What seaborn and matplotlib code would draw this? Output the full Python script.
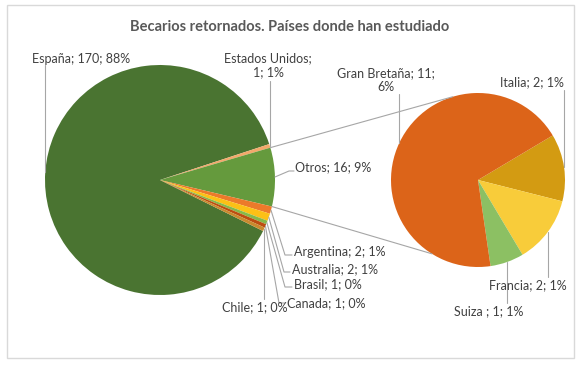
import numpy as np
import seaborn as sns
import matplotlib.pyplot as plt

W, H = 582, 365

title = 'Becarios retornados. Países donde han estudiado'

main_names = ['España', 'Estados Unidos', 'Otros', 'Argentina', 'Australia', 'Brasil', 'Canada', 'Chile']
main_values = [170, 1, 16, 2, 2, 1, 1, 1]
main_pcts = ['88%', '1%', '9%', '1%', '1%', '0%', '0%', '0%']
main_colors = ['#4a7431', '#f2a96b', '#659a3d', '#ec7a2a', '#fcc016', '#86b94a', '#bd4d10', '#c98a2e']

sub_names = ['Italia', 'Francia', 'Suiza ', 'Gran Bretaña']
sub_values = [2, 2, 1, 11]
sub_pcts = ['1%', '1%', '1%', '6%']
sub_colors = ['#d39b12', '#f8cc3a', '#8cc063', '#dc6419']

# labels that Excel wrapped onto two lines
wrapped = {'Estados Unidos': 'Estados Unidos;\n{v}; {p}', 'Gran Bretaña': 'Gran Bretaña; {v};\n{p}'}

# label layout in pixels (y down): text x, text y, ha, leader
main_layout = {
    'España': (32, 59, 'left', ('v', 65)),
    'Estados Unidos': (268, 65, 'center', ('v', 81)),
    'Otros': (295, 167, 'left', ('e', 289, 171, 294)),
    'Argentina': (294, 252, 'left', ('e', 285, 255, 292)),
    'Australia': (292, 269, 'left', ('e', 284, 272, 290)),
    'Brasil': (294, 284, 'left', ('e', 285, 287, 292)),
    'Canada': (287, 303, 'left', ('e', 279, 303, 285)),
    'Chile': (255, 307, 'center', ('v', 299)),
}
sub_layout = {
    'Italia': (500, 82, 'left', ('v', 90)),
    'Francia': (489, 285, 'left', ('v', 277)),
    'Suiza ': (454, 311, 'left', ('v', 303)),
    'Gran Bretaña': (386, 80, 'center', ('v', 94)),
}

GRAY = '#a6a6a6'
TXT = '#404040'


def Y(y):
    return H - y


def edge_point(center, r, w, f=0.5):
    a = np.deg2rad(w.theta1 + f * (w.theta2 - w.theta1))
    return center[0] + r * np.cos(a), center[1] + r * np.sin(a)


def label_text(name, v, p):
    if name in wrapped:
        return wrapped[name].format(v=v, p=p)
    return f'{name}; {v}; {p}'


def draw_labels(ax, wedges, names, values, pcts, layout, center, r):
    for w, name, v, p in zip(wedges, names, values, pcts):
        tx, ty, ha, lead = layout[name]
        ax.text(tx, Y(ty), label_text(name, v, p), ha=ha, va='center',
                fontsize=9, color=TXT, linespacing=1.25, multialignment='center')
        x0, y0 = edge_point(center, r, w)
        if lead[0] == 'v':
            ax.plot([x0, x0], [y0, Y(lead[1])], color=GRAY, lw=0.8)
        else:
            _, ex, ey, ex2 = lead
            ax.plot([x0, ex, ex2], [y0, Y(ey), Y(ey)], color=GRAY, lw=0.8)


sns.set_theme(style='white')
plt.rcParams['font.family'] = ['Lato', 'DejaVu Sans']

fig = plt.figure(figsize=(W / 100, H / 100), dpi=100)
ax = fig.add_axes([0, 0, 1, 1])

main_c, main_r = (160, Y(180)), 115
sub_c, sub_r = (478, Y(180)), 87

# Otros centred slightly above 3 o'clock, as Excel draws it
before = sum(main_values[:2]) + main_values[2] / 2
start = 1.5 + before / sum(main_values) * 360
main_w, _ = ax.pie(main_values, colors=main_colors, startangle=start, counterclock=False,
                   center=main_c, radius=main_r, wedgeprops=dict(linewidth=0))
sub_w, _ = ax.pie(sub_values, colors=sub_colors, startangle=30.8, counterclock=False,
                  center=sub_c, radius=sub_r, wedgeprops=dict(linewidth=0))

# connector lines between Otros and the second pie
otros = main_w[main_names.index('Otros')]
for th_main, th_sub in [(otros.theta2, 107), (otros.theta1, -122)]:
    a, b = np.deg2rad(th_main), np.deg2rad(th_sub)
    ax.plot([main_c[0] + main_r * np.cos(a), sub_c[0] + sub_r * np.cos(b)],
            [main_c[1] + main_r * np.sin(a), sub_c[1] + sub_r * np.sin(b)],
            color=GRAY, lw=0.8)

draw_labels(ax, main_w, main_names, main_values, main_pcts, main_layout, main_c, main_r)
draw_labels(ax, sub_w, sub_names, sub_values, sub_pcts, sub_layout, sub_c, sub_r)

ax.text(290, Y(27), title, ha='center', va='center', fontsize=10.5, fontweight='bold', color='#595959')

ax.add_patch(plt.Rectangle((7, Y(358)), 567, 353, fill=False, edgecolor='#d9d9d9', lw=1))
ax.set_xlim(0, W)
ax.set_ylim(0, H)
ax.set_aspect('equal')
ax.axis('off')

fig.savefig('out.png', dpi=100, facecolor='white')
